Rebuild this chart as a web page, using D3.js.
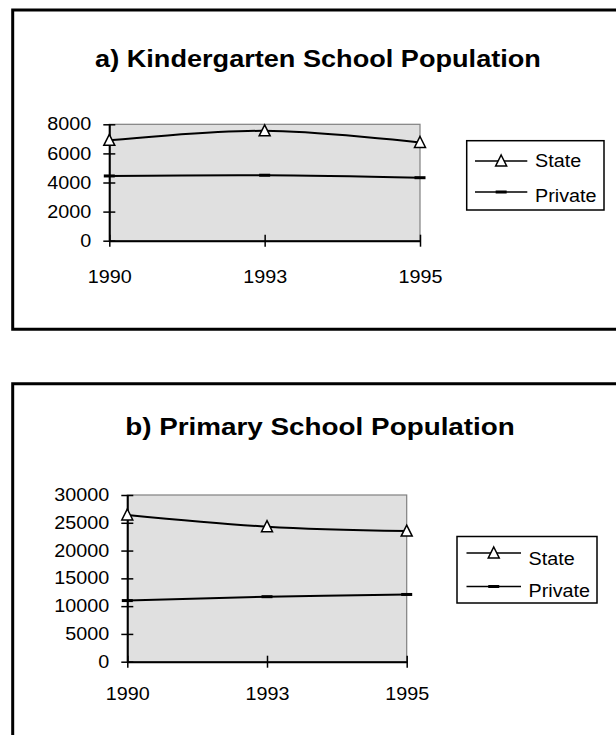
<!DOCTYPE html>
<html>
<head>
<meta charset="utf-8">
<script src="https://cdn.jsdelivr.net/npm/d3@7"></script>
<style>
  body { margin: 0; background: #fff; }
  text { font-family: "Liberation Sans", Arial, sans-serif; fill: #000; }
</style>
</head>
<body>
<div class="box"></div>
<script>
// data
const years = ['1990', '1993', '1995'];
const seriesNames = ['State', 'Private'];
const kinderState = [6900, 7550, 6750];
const kinderPrivate = [4450, 4500, 4330];
const kinderTicks = [0, 2000, 4000, 6000, 8000];
const primaryState = [26400, 24300, 23500];
const primaryPrivate = [11000, 11700, 12100];
const primaryTicks = [0, 5000, 10000, 15000, 20000, 25000, 30000];

const svg = d3.select('.box')
              .append('svg')
              .attr('width', 616)
              .attr('height', 735)
              .style('background', '#fff');

// the scanned fonts look a bit wider than Arial
const sx = 1.13;

const panels = [
  { title: 'a) Kindergarten School Population', titleX: 318, titleY: 67, titleSx: 1.13,
    frameTop: 10, frameBottom: 329.3,
    state: kinderState, priv: kinderPrivate, ticks: kinderTicks,
    left: 109.3, right: 420, top: 124.3, bottom: 240.7, xLabelY: 42,
    legend: {x: 466.7, y: 140.7, w: 137.3, h: 69.3, lx1: 475, lx2: 527.3, tx: 535,
             rows: [161, 192], texts: [167, 201.5]} },
  { title: 'b) Primary School Population', titleX: 320, titleY: 435, titleSx: 1.16,
    frameTop: 383.8, frameBottom: null,
    state: primaryState, priv: primaryPrivate, ticks: primaryTicks,
    left: 127.3, right: 406.7, top: 495, bottom: 661.7, xLabelY: 38,
    legend: {x: 457, y: 536.5, w: 140, h: 66.5, lx1: 466.5, lx2: 521, tx: 528.5,
             rows: [553, 586.5], texts: [565, 597]} }
];

const triangle = 'M0,-6L5.5,5L-5.5,5Z';

function drawMarker(g, kind, cx, cy) {
  if (kind === 'State') {
    g.append('path')
     .attr('d', triangle)
     .attr('transform', `translate(${cx},${cy})`)
     .attr('fill', '#fff')
     .attr('stroke', '#000')
     .attr('stroke-width', 1.5);
  } else {
    g.append('rect')
     .attr('x', cx - 5.5).attr('y', cy - 1.5)
     .attr('width', 11).attr('height', 3)
     .attr('fill', '#000');
  }
}

panels.forEach(p => {
  const g = svg.append('g');

  // frame (right side and lower edge of b run off the page)
  const fr = p.frameBottom === null
    ? `M640,${p.frameTop}H12.7V760`
    : `M640,${p.frameTop}H12.7V${p.frameBottom}H640`;
  g.append('path').attr('d', fr).attr('fill', 'none').attr('stroke', '#000').attr('stroke-width', 3);

  g.append('text')
   .attr('transform', `translate(${p.titleX},${p.titleY}) scale(${p.titleSx},1)`)
   .attr('text-anchor', 'middle')
   .attr('font-size', 24)
   .attr('font-weight', 'bold')
   .text(p.title);

  const x = d3.scalePoint().domain(years).range([p.left, p.right]);
  const y = d3.scaleLinear().domain([0, d3.max(p.ticks)]).range([p.bottom, p.top]);

  // plot area
  g.append('rect')
   .attr('x', p.left).attr('y', p.top)
   .attr('width', p.right - p.left).attr('height', p.bottom - p.top)
   .attr('fill', '#e0e0e0')
   .attr('stroke', '#808080')
   .attr('stroke-width', 1.2);

  // axes with crossing ticks
  const gy = g.append('g')
              .attr('transform', `translate(${p.left},0)`)
              .call(d3.axisLeft(y).tickValues(p.ticks).tickFormat(d3.format('d'))
                      .tickSize(6).tickSizeOuter(0).tickPadding(12));
  gy.attr('font-size', 17.5).attr('font-family', null);
  gy.select('.domain').attr('stroke', '#000').attr('stroke-width', 2);
  gy.selectAll('.tick line').attr('x1', 6).attr('stroke-width', 1.5);
  gy.selectAll('.tick text').attr('x', -18 / sx).attr('transform', `scale(${sx},1)`);

  const gx = g.append('g')
              .attr('transform', `translate(0,${p.bottom})`)
              .call(d3.axisBottom(x).tickSize(6).tickSizeOuter(0));
  gx.attr('font-size', 17.5).attr('font-family', null);
  gx.select('.domain').attr('stroke', '#000').attr('stroke-width', 2);
  gx.selectAll('.tick line').attr('y1', -6).attr('stroke-width', 1.5);
  gx.selectAll('.tick text').attr('y', p.xLabelY).attr('dy', 0).attr('transform', `scale(${sx},1)`);

  // smoothed lines
  const line = d3.line()
                 .x((d, i) => x(years[i]))
                 .y(d => y(d))
                 .curve(d3.curveCatmullRom.alpha(0));

  [p.state, p.priv].forEach((vals, k) => {
    g.append('path')
     .attr('d', line(vals))
     .attr('fill', 'none')
     .attr('stroke', '#000')
     .attr('stroke-width', 2);
    vals.forEach((v, i) => drawMarker(g, seriesNames[k], x(years[i]), y(v)));
  });

  // legend
  const L = p.legend;
  g.append('rect')
   .attr('x', L.x).attr('y', L.y).attr('width', L.w).attr('height', L.h)
   .attr('fill', '#fff').attr('stroke', '#000').attr('stroke-width', 1.5);
  seriesNames.forEach((name, k) => {
    g.append('line')
     .attr('x1', L.lx1).attr('x2', L.lx2)
     .attr('y1', L.rows[k]).attr('y2', L.rows[k])
     .attr('stroke', '#000').attr('stroke-width', 1.5);
    drawMarker(g, name, (L.lx1 + L.lx2) / 2, L.rows[k]);
    g.append('text')
     .attr('transform', `translate(${L.tx},${L.texts[k]}) scale(${sx},1)`)
     .attr('font-size', 17.5)
     .text(name);
  });
});
</script>
</body>
</html>
